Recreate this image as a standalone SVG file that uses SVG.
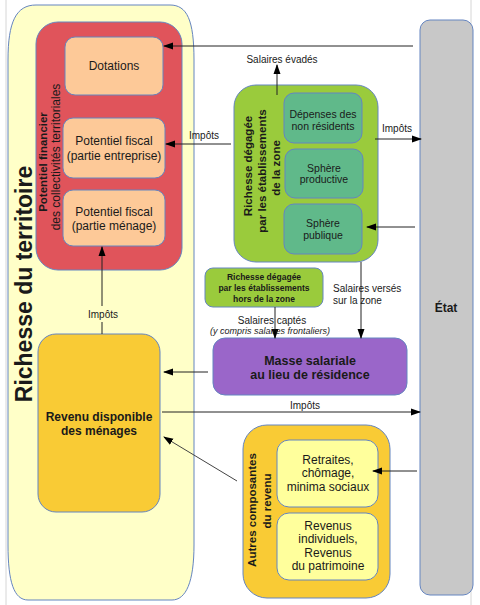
<svg xmlns="http://www.w3.org/2000/svg" width="480" height="605" viewBox="0 0 480 605">
<defs>
<marker id="ah" markerWidth="10" markerHeight="8" refX="9" refY="4" orient="auto" markerUnits="userSpaceOnUse">
<path d="M0,0.5 L10,4 L0,7.5 Z" fill="#000"/>
</marker>
<style>
text{font-family:"Liberation Sans",Arial,sans-serif;fill:#1a1a1a;text-anchor:middle}
.b{font-weight:bold}
.box{stroke:#6585c0;stroke-width:1}
.ln{stroke:#222;stroke-width:1;fill:none}
.lnA{stroke:#222;stroke-width:1;fill:none;marker-end:url(#ah)}
.s12{font-size:12px}
.s10{font-size:10px}
.v{font-size:11.5px;font-weight:bold}
</style>
</defs>
<rect width="480" height="605" fill="#fff"/>
<line x1="6" y1="0" x2="6" y2="605" stroke="#d6d6d6"/>
<line x1="471" y1="0" x2="471" y2="605" stroke="#d6d6d6"/>

<g id="richesse-territoire">
<path class="box" fill="#ffffc8" d="M36,5 H170 C187,5 194,20 194,60 V545 C194,582 186,600 172,600 H28 C14,600 8,582 8,545 V60 C8,22 16,5 36,5 Z"/>
<text class="b" font-size="23" transform="translate(32,284) rotate(-90)">Richesse du territoire</text>
</g>

<g id="potentiel-financier">
<rect class="box" x="36" y="22" width="146" height="248" rx="22" fill="#e0545b"/>
<text class="v" transform="translate(47,162) rotate(-90)">Potentiel financier</text>
<text font-size="12" transform="translate(60,157) rotate(-90)">des collectivités territoriales</text>
</g>

<g id="dotations">
<rect class="box" x="65" y="37" width="98" height="58" rx="10" fill="#fdc998"/>
<text class="s12" x="114" y="70">Dotations</text>
</g>

<g id="pf-entreprise">
<rect class="box" x="63" y="118" width="102" height="60" rx="10" fill="#fdc998"/>
<text class="s12" x="114" y="145">Potentiel fiscal</text>
<text class="s12" x="114" y="160">(partie entreprise)</text>
</g>

<g id="pf-menage">
<rect class="box" x="63" y="190" width="102" height="56" rx="10" fill="#fdc998"/>
<text class="s12" x="114" y="216">Potentiel fiscal</text>
<text class="s12" x="114" y="230">(partie ménage)</text>
</g>

<g id="richesse-zone">
<rect class="box" x="234" y="85" width="144" height="177" rx="22" fill="#9acb3c"/>
<text class="v" transform="translate(252,166) rotate(-90)">Richesse dégagée</text>
<text class="v" transform="translate(266,171) rotate(-90)">par les établissements</text>
<text class="v" transform="translate(280,168) rotate(-90)">de la zone</text>
</g>

<g id="depenses">
<rect class="box" x="284" y="93" width="78" height="50" rx="10" fill="#60b98a"/>
<text font-size="10.5" x="323" y="118">Dépenses des</text>
<text font-size="10.5" x="323" y="130">non résidents</text>
</g>

<g id="sphere-productive">
<rect class="box" x="285" y="149" width="78" height="49" rx="10" fill="#60b98a"/>
<text font-size="10.5" x="324" y="172">Sphère</text>
<text font-size="10.5" x="324" y="183">productive</text>
</g>

<g id="sphere-publique">
<rect class="box" x="284" y="204" width="78" height="50" rx="10" fill="#60b98a"/>
<text font-size="10.5" x="323" y="227">Sphère</text>
<text font-size="10.5" x="323" y="239">publique</text>
</g>

<g id="richesse-hors-zone">
<rect class="box" x="205" y="268" width="118" height="39" rx="8" fill="#9acb3c"/>
<text class="b" font-size="8.5" x="264" y="280">Richesse dégagée</text>
<text class="b" font-size="8.5" x="264" y="291">par les établissements</text>
<text class="b" font-size="8.5" x="264" y="302">hors de la zone</text>
</g>

<g id="masse-salariale">
<rect class="box" x="213" y="338" width="194" height="57" rx="12" fill="#9a66c9"/>
<text class="b" font-size="12.5" x="310" y="365">Masse salariale</text>
<text class="b" font-size="12.5" x="310" y="379">au lieu de résidence</text>
</g>

<g id="revenu-disponible">
<rect class="box" x="38" y="334" width="122" height="178" rx="18" fill="#f9cb35"/>
<text class="b s12" x="99" y="421">Revenu disponible</text>
<text class="b s12" x="99" y="435">des ménages</text>
</g>

<g id="autres-composantes">
<rect class="box" x="243" y="425" width="147" height="173" rx="24" fill="#f9cb35"/>
<text class="v" transform="translate(256,510) rotate(-90)">Autres composantes</text>
<text class="v" transform="translate(271,501) rotate(-90)">du revenu</text>
</g>

<g id="retraites">
<rect class="box" x="277" y="440" width="101" height="67" rx="12" fill="#ffff9c"/>
<text class="s12" x="328" y="464">Retraites,</text>
<text class="s12" x="328" y="477">chômage,</text>
<text class="s12" x="328" y="491">minima sociaux</text>
</g>

<g id="revenus-individuels">
<rect class="box" x="277" y="513" width="101" height="67" rx="12" fill="#ffff9c"/>
<text class="s12" x="328" y="530">Revenus</text>
<text class="s12" x="328" y="543">individuels,</text>
<text class="s12" x="328" y="557">Revenus</text>
<text class="s12" x="328" y="570">du patrimoine</text>
</g>

<g id="etat">
<rect class="box" x="420" y="20" width="53" height="575" rx="10" fill="#c8c8c8"/>
<text class="b s12" x="446" y="312">État</text>
</g>

<g id="connectors">
<line class="lnA" x1="413" y1="46" x2="164" y2="46"/>
<line class="lnA" x1="231" y1="144" x2="166" y2="144"/>
<text class="s10" x="204" y="139">Impôts</text>
<line class="lnA" x1="277" y1="95" x2="277" y2="65"/>
<text class="s10" x="282" y="63">Salaires évadés</text>
<line class="lnA" x1="375" y1="139" x2="421" y2="139"/>
<text class="s10" x="397" y="132">Impôts</text>
<line class="lnA" x1="415" y1="227" x2="367" y2="227"/>
<line class="lnA" x1="361" y1="262" x2="361" y2="338"/>
<text class="s10" x="333" y="292" style="text-anchor:start">Salaires versés</text>
<text class="s10" x="333" y="304" style="text-anchor:start">sur la zone</text>
<line class="lnA" x1="275" y1="307" x2="275" y2="338"/>
<text class="s10" x="272" y="324">Salaires captés</text>
<text font-size="9" font-style="italic" x="270" y="334">(y compris salaires frontaliers)</text>
<line class="lnA" x1="208" y1="372" x2="164" y2="372"/>
<line class="ln" x1="102" y1="334" x2="102" y2="322"/>
<line class="lnA" x1="102" y1="306" x2="102" y2="247"/>
<text class="s10" x="103" y="318">Impôts</text>
<line class="lnA" x1="162" y1="412" x2="420" y2="412"/>
<text class="s10" x="305" y="409">Impôts</text>
<line class="lnA" x1="417" y1="471" x2="373" y2="471"/>
<line class="lnA" x1="237" y1="481" x2="164" y2="437" style="stroke:#444"/>
</g>
</svg>
